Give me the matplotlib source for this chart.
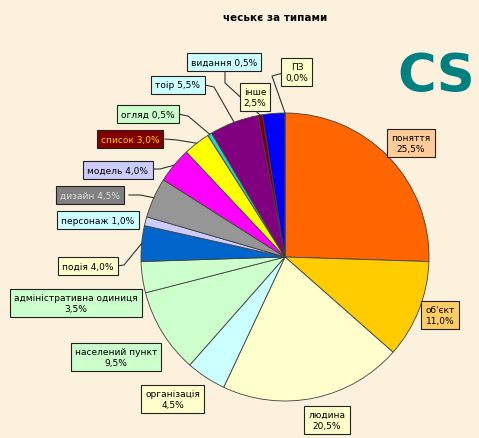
import numpy as np
import matplotlib.pyplot as plt

# slices, clockwise from the top
categories = ["поняття", "об'єкт", "людина", "організація", "населений пункт",
              "адміністративна одиниця", "подія", "персонаж", "дизайн", "модель",
              "список", "огляд", "тоір", "видання", "інше", "ПЗ"]
shares = [25.5, 11.0, 20.5, 4.5, 9.5, 3.5, 4.0, 1.0, 4.5, 4.0, 3.0, 0.5, 5.5, 0.5, 2.5, 0.0]
slice_colors = ["#FF6600", "#FFCC00", "#FFFFCC", "#CCFFFF", "#CCFFCC", "#CCFFCC",
                "#0066CC", "#CCCCFF", "#969696", "#FF00FF", "#FFFF00", "#33CCCC",
                "#800080", "#800000", "#0000FF", "#FFFFFF"]

W, H = 479, 439
cx, cy, R = 285, 258, 144  # pie centre/radius in pixels (y from top)

# label layout: box centre (pixels from top-left), two lines?, box colour, text colour,
# leader anchor + elbow (or None)
label_style = {
    "поняття": ((411, 144), True, "#FFCC99", "black", None),
    "об'єкт": ((440, 316), True, "#FFCC66", "black", None),
    "людина": ((327, 421), True, "#FFFFCC", "black", None),
    "організація": ((173, 400), True, "#FFFFCC", "black", None),
    "населений пункт": ((116, 358), True, "#CCFFCC", "black", None),
    "адміністративна одиниця": ((76, 304), True, "#CCFFCC", "black", None),
    "подія": ((88, 267), False, "#FFFFCC", "black", ((117, 267), (124, 266))),
    "персонаж": ((98, 221), False, "#CCFFFF", "black", None),
    "дизайн": ((90, 196), False, "#808080", "#DDDDDD", ((129, 196), (140, 196))),
    "модель": ((118, 171), False, "#CCCCFF", "black", ((152, 170), (160, 170))),
    "список": ((130, 140), False, "#800000", "#FFCC00", ((165, 140), (177, 141))),
    "огляд": ((148, 115), False, "#CCFFCC", "black", ((178, 115), (188, 117))),
    "тоір": ((178, 86), False, "#CCFFFF", "black", ((205, 86), (214, 88))),
    "видання": ((224, 63), False, "#CCFFFF", "black", ((225, 71), (225, 84))),
    "інше": ((255, 98), True, "#FFFFCC", "black", None),
    "ПЗ": ((297, 73), True, "#FFFFCC", "black", ((283, 74), (272, 77))),
}

bg = "#FCF1DD"
fig = plt.figure(figsize=(W / 100, H / 100), dpi=100, facecolor=bg)
ax = fig.add_axes([0, 0, 1, 1])
ax.set_facecolor(bg)

ax.pie(shares, colors=slice_colors, center=(cx, H - cy), radius=R,
       startangle=90, counterclock=False,
       wedgeprops=dict(edgecolor="#404040", linewidth=0.6))
ax.set_xlim(0, W)
ax.set_ylim(0, H)
ax.set_aspect("auto")
ax.axis("off")

cum = np.cumsum([0] + shares[:-1])
for name, v, c0 in zip(categories, shares, cum):
    (bx, by), two, fc, tc, leader = label_style[name]
    pct = ("%.1f%%" % v).replace(".", ",")
    txt = name + ("\n" if two else " ") + pct
    ax.text(bx, H - by, txt, ha="center", va="center", fontsize=6.5, color=tc,
            linespacing=1.35, zorder=5,
            bbox=dict(boxstyle="square,pad=0.45", fc=fc, ec="#222222", lw=0.8))
    if leader is not None:
        ang = np.deg2rad(90 - 360 * (c0 + v / 2) / 100)
        ex, ey = cx + R * np.cos(ang), cy - R * np.sin(ang)
        (ax0, ay0), (ax1, ay1) = leader
        ax.plot([ax0, ax1, ex], [H - ay0, H - ay1, H - ey], color="#333333",
                lw=0.8, zorder=4)

ax.text(275, H - 18, "чеськє за типами", ha="center", va="center",
        fontsize=7.5, fontweight="bold", color="black")
ax.text(436, H - 77, "CS", ha="center", va="center", fontsize=38,
        fontweight="bold", color="#008080")

fig.savefig("out.png", dpi=100, facecolor=bg)
